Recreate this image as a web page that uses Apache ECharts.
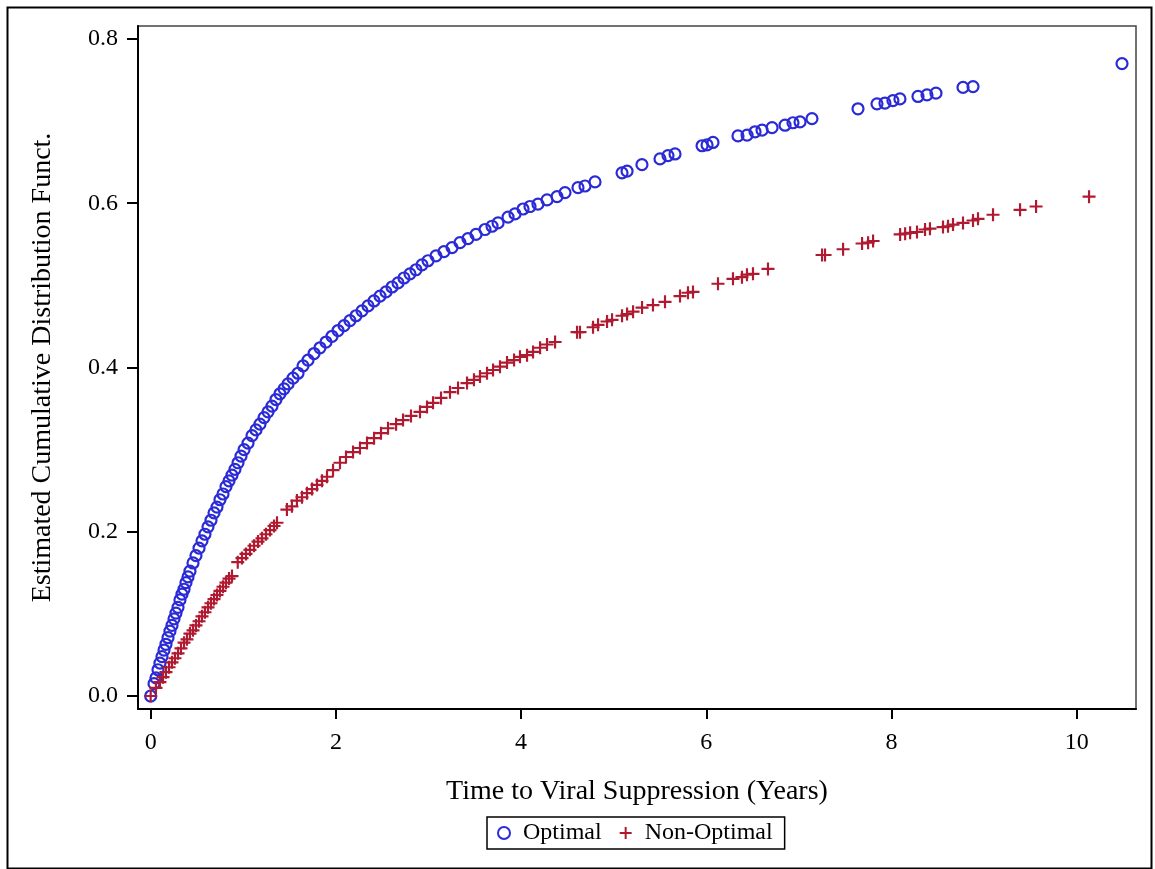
<!DOCTYPE html>
<html>
<head>
<meta charset="utf-8">
<script src="https://cdn.jsdelivr.net/npm/echarts@6/dist/echarts.min.js"></script>
<style>html,body{margin:0;padding:0;background:#fff;}#c{width:1155px;height:869px;}</style>
</head>
<body>
<div id="c"></div>
<script>
// Optimal (blue circles): time in years, estimated CDF
var optX = [0.000,0.036,0.057,0.079,0.100,0.122,0.144,0.165,0.187,0.208,0.230,0.252,0.273,0.295,0.316,0.338,0.360,0.381,0.403,0.424,
  0.457,0.489,0.522,0.554,0.586,0.619,0.651,0.684,0.716,0.748,0.781,0.813,0.846,0.878,0.910,0.943,0.975,1.008,1.051,1.094,
  1.137,1.180,1.224,1.267,1.310,1.353,1.396,1.440,1.483,1.537,1.591,1.645,1.699,1.764,1.828,1.893,1.958,2.023,2.088,2.152,
  2.217,2.282,2.347,2.411,2.476,2.541,2.606,2.671,2.735,2.800,2.865,2.930,2.995,3.081,3.167,3.254,3.340,3.426,3.513,3.610,
  3.686,3.751,3.859,3.934,4.021,4.096,4.182,4.280,4.388,4.474,4.614,4.690,4.798,5.090,5.144,5.305,5.500,5.586,5.662,5.954,
  6.008,6.072,6.342,6.440,6.526,6.602,6.710,6.850,6.936,7.012,7.141,7.638,7.843,7.929,8.015,8.091,8.286,8.383,8.480,8.772,
  8.880,10.489];
var optY = [0.000,0.015,0.022,0.032,0.040,0.048,0.056,0.063,0.071,0.079,0.086,0.094,0.101,0.108,0.117,0.124,0.130,0.138,0.145,0.152,
  0.162,0.171,0.180,0.189,0.197,0.206,0.214,0.223,0.230,0.239,0.246,0.255,0.262,0.269,0.276,0.284,0.292,0.300,0.308,0.317,
  0.324,0.331,0.339,0.346,0.353,0.361,0.368,0.374,0.380,0.387,0.393,0.402,0.409,0.417,0.424,0.431,0.438,0.445,0.451,0.457,
  0.463,0.469,0.475,0.481,0.487,0.492,0.498,0.503,0.509,0.514,0.519,0.525,0.530,0.536,0.541,0.546,0.552,0.557,0.562,0.568,
  0.572,0.576,0.583,0.587,0.593,0.596,0.599,0.604,0.608,0.613,0.619,0.621,0.626,0.637,0.639,0.647,0.654,0.658,0.660,0.670,
  0.671,0.674,0.682,0.683,0.687,0.689,0.692,0.695,0.698,0.699,0.703,0.715,0.721,0.722,0.725,0.727,0.730,0.732,0.734,0.741,
  0.742,0.770];
// Non-Optimal (red plus)
var nonX = [0.000,0.057,0.100,0.133,0.165,0.198,0.230,0.262,0.295,0.327,0.360,0.392,0.424,0.457,0.489,0.522,0.554,0.586,0.619,0.651,
  0.684,0.716,0.748,0.781,0.813,0.846,0.878,0.940,0.986,1.029,1.072,1.116,1.159,1.202,1.245,1.288,1.332,1.364,1.471,1.525,
  1.579,1.634,1.688,1.742,1.796,1.850,1.904,1.969,2.044,2.109,2.185,2.260,2.336,2.412,2.487,2.563,2.650,2.725,2.811,2.908,
  2.984,3.049,3.135,3.232,3.319,3.416,3.491,3.556,3.632,3.697,3.772,3.848,3.924,3.988,4.064,4.129,4.205,4.280,4.367,4.604,
  4.636,4.777,4.831,4.928,4.982,5.090,5.144,5.209,5.306,5.424,5.554,5.716,5.802,5.856,6.126,6.288,6.385,6.439,6.504,6.666,
  7.250,7.282,7.477,7.682,7.747,7.801,8.093,8.147,8.201,8.275,8.362,8.415,8.556,8.610,8.664,8.772,8.880,8.934,9.096,9.388,
  9.561,10.133];
var nonY = [0.000,0.010,0.017,0.023,0.029,0.035,0.041,0.046,0.052,0.058,0.065,0.069,0.076,0.080,0.086,0.091,0.097,0.102,0.108,0.113,
  0.118,0.123,0.128,0.133,0.138,0.143,0.146,0.163,0.168,0.173,0.178,0.183,0.188,0.192,0.197,0.202,0.207,0.211,0.227,0.231,
  0.238,0.242,0.247,0.252,0.257,0.262,0.267,0.275,0.284,0.291,0.297,0.302,0.308,0.314,0.320,0.326,0.331,0.336,0.341,0.346,
  0.352,0.357,0.363,0.370,0.375,0.381,0.385,0.389,0.393,0.397,0.401,0.406,0.409,0.413,0.415,0.419,0.424,0.428,0.431,0.443,
  0.443,0.449,0.452,0.456,0.458,0.463,0.465,0.468,0.473,0.476,0.480,0.487,0.491,0.492,0.502,0.508,0.510,0.513,0.514,0.520,
  0.537,0.537,0.544,0.551,0.552,0.554,0.562,0.563,0.564,0.565,0.568,0.569,0.571,0.572,0.574,0.576,0.579,0.581,0.586,0.592,
  0.596,0.608];
var xTicks = [0, 2, 4, 6, 8, 10];
var yTicks = [0.0, 0.2, 0.4, 0.6, 0.8];
var seriesNames = ['Optimal', 'Non-Optimal'];

function zip(a, b) { return a.map(function (v, i) { return [v, b[i]]; }); }

var BLUE = '#2a2ad6';
var RED = '#b01a30';
var FONT = '"Liberation Serif", "DejaVu Serif", serif';
var PLUS = 'path://M5,0 L7,0 L7,5 L12,5 L12,7 L7,7 L7,12 L5,12 L5,7 L0,7 L0,5 L5,5 Z';

var chart = echarts.init(document.getElementById('c'), null, {renderer: 'canvas'});
chart.setOption({
  animation: false,
  backgroundColor: '#fff',
  graphic: [{
    type: 'rect', left: 5, top: 5, silent: true,
    shape: {width: 1144, height: 861},
    style: {fill: 'none', stroke: '#000', lineWidth: 2}
  }],
  grid: {left: 138, top: 26, right: 19, bottom: 160, show: true, borderColor: '#444', borderWidth: 1.5, backgroundColor: 'transparent'},
  xAxis: {
    type: 'value', min: -0.137, max: 10.64,
    name: 'Time to Viral Suppression (Years)', nameLocation: 'middle', nameGap: 69,
    nameTextStyle: {fontFamily: FONT, fontSize: 28, color: '#000'},
    axisLine: {show: true, onZero: false, lineStyle: {color: '#000', width: 2}},
    axisTick: {show: true, length: 10, lineStyle: {color: '#000', width: 2}, customValues: xTicks},
    axisLabel: {fontFamily: FONT, fontSize: 24, color: '#000', margin: 22, customValues: xTicks,
      formatter: function (v) { return String(v); }},
    splitLine: {show: false}
  },
  yAxis: {
    type: 'value', min: -0.0158, max: 0.8158,
    name: 'Estimated Cumulative Distribution Funct.', nameLocation: 'middle', nameGap: 81,
    nameTextStyle: {fontFamily: FONT, fontSize: 28, color: '#000'},
    axisLine: {show: true, onZero: false, lineStyle: {color: '#000', width: 2}},
    axisTick: {show: true, length: 11, lineStyle: {color: '#000', width: 2}, customValues: yTicks},
    axisLabel: {fontFamily: FONT, fontSize: 24, color: '#000', margin: 20, customValues: yTicks,
      formatter: function (v) { return v.toFixed(1); }},
    splitLine: {show: false}
  },
  legend: {
    left: 487, top: 817,
    padding: [4, 12, 4, 10],
    itemGap: 18, itemWidth: 12, itemHeight: 12,
    borderColor: '#000', borderWidth: 1.5, borderRadius: 0,
    textStyle: {fontFamily: FONT, fontSize: 24, color: '#000', padding: [0, 0, 0, 8]},
    data: [
      {name: seriesNames[0], icon: 'circle', itemStyle: {color: 'transparent', borderColor: BLUE, borderWidth: 2}},
      {name: seriesNames[1], icon: PLUS, itemStyle: {color: RED}}
    ]
  },
  series: [{
    name: seriesNames[0], type: 'scatter', data: zip(optX, optY),
    symbol: 'circle', symbolSize: 11,
    itemStyle: {color: 'transparent', borderColor: BLUE, borderWidth: 2.2, opacity: 1}
  }, {
    name: seriesNames[1], type: 'scatter', data: zip(nonX, nonY),
    symbol: PLUS, symbolSize: 13,
    itemStyle: {color: RED, opacity: 1}
  }]
});
</script>
</body>
</html>
